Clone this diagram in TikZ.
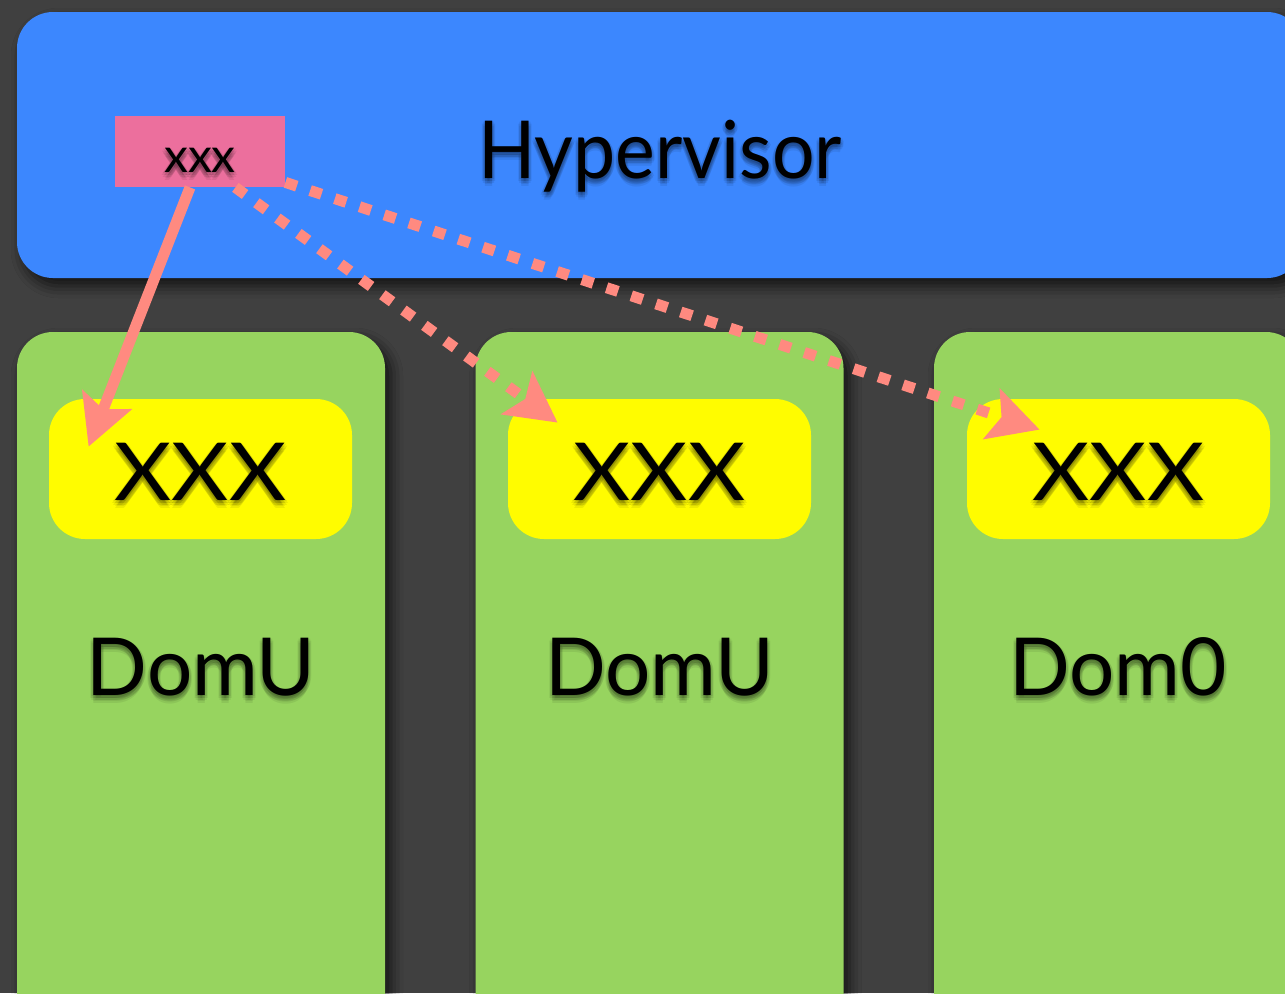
\documentclass[tikz,border=0pt]{standalone}
\usepackage{fontspec}
\setmainfont{Lato}
\usetikzlibrary{arrows.meta,shadows.blur,calc}
\definecolor{bgdark}{HTML}{404040}
\definecolor{hypblue}{HTML}{3C87FE}
\definecolor{dompink}{HTML}{EC6F9D}
\definecolor{domgreen}{HTML}{97D45F}
\definecolor{slotyellow}{HTML}{FFFC00}
\definecolor{salmon}{HTML}{FF8A80}
\tikzset{
  panel/.style={rectangle, rounded corners=18pt, inner sep=0pt, draw=none,
    blur shadow={shadow xshift=3pt, shadow yshift=-4pt, shadow blur radius=6pt, shadow opacity=70}},
  hypbox/.style={panel, fill=hypblue, minimum width=643pt, minimum height=133pt},
  dombox/.style={panel, fill=domgreen, minimum width=184pt, minimum height=360pt},
  slotbox/.style={rectangle, rounded corners=18pt, inner sep=0pt, fill=slotyellow,
    minimum width=151.5pt, minimum height=70pt},
  srcbox/.style={rectangle, inner sep=0pt, fill=dompink, minimum width=85pt, minimum height=35.5pt},
  bigtext/.style={anchor=base, inner sep=0pt, font=\fontsize{40}{48}\selectfont},
  smalltext/.style={anchor=base, inner sep=0pt, font=\fontsize{24}{28}\selectfont},
  glow/.style={text=black, opacity=0.07},
  link/.style={draw=salmon, line width=5.5pt, -{Stealth[length=25pt, width=26pt, inset=5pt]}},
  dotlink/.style={link, dash pattern=on 6pt off 7pt},
}
\newcommand\wideXXX{\scalebox{1.1}[1]{XXX}}
% label with a soft dark shadow falling slightly below it
\newcommand\shadedlabel[4]{% style, position, name, text
  \foreach \dx/\dy in {0/3,3/3,-3/3,0/6,0/0,2/5,-2/5,2/1,-2/1,0/8}
    \node[#1, glow] at ($#2+(\dx,\dy)$) {#4};
  \node[#1] (#3) at #2 {#4};
}
\begin{document}
\begin{tikzpicture}[x=0.5pt, y=-0.5pt]
\useasboundingbox (0,0) rectangle (1285,993);
\clip (0,0) rectangle (1285,993);
\fill[bgdark] (0,0) rectangle (1285,993);

% hypervisor layer
\node[hypbox] (hyp) at (660,145) {};

% domains
\node[dombox] (dom1) at (201,692) {};
\node[dombox] (dom2) at (659.5,692) {};
\node[dombox] (dom3) at (1118,692) {};

% per-domain slots
\node[slotbox] (y1) at (200.5,469) {};
\node[slotbox] (y2) at (659.5,469) {};
\node[slotbox] (y3) at (1118.5,469) {};

% source entry inside the hypervisor
\node[srcbox] (pink) at (200,151.5) {};

% labels
\shadedlabel{bigtext}{(660,178)}{hyplabel}{\scalebox{0.94}[1]{Hypervisor}}
\shadedlabel{smalltext}{(200,172)}{pinklabel}{xxx}
\shadedlabel{bigtext}{(200.5,500)}{y1label}{\wideXXX}
\shadedlabel{bigtext}{(659.5,500)}{y2label}{\wideXXX}
\shadedlabel{bigtext}{(1118.5,500)}{y3label}{\wideXXX}
\shadedlabel{bigtext}{(201,695)}{d1label}{DomU}
\shadedlabel{bigtext}{(659.5,695)}{d2label}{DomU}
\shadedlabel{bigtext}{(1118,695)}{d3label}{Dom0}

% mappings
\draw[link] ($(pink.south)+(-10,0)$) -- ($(y1.north west)+(40,48)$);
\draw[dotlink] ($(pink.south east)+(-50,0)$) -- ($(y2.north west)+(50,24)$);
\draw[dotlink] ($(pink.south east)+(0,-5)$) -- ($(y3.north west)+(73,31)$);
\end{tikzpicture}
\end{document}
